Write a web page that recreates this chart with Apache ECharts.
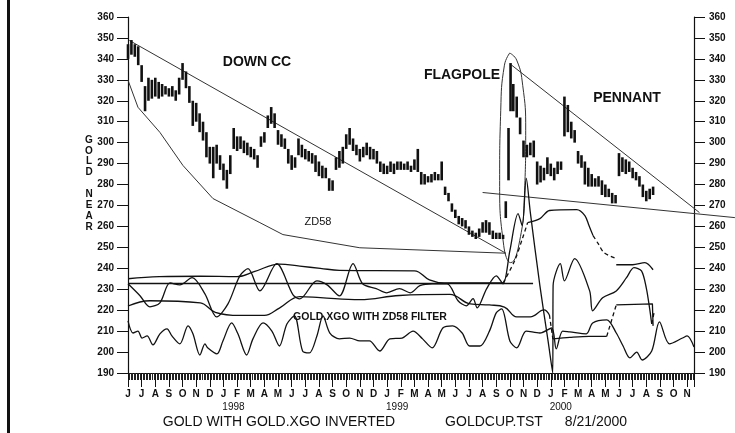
<!DOCTYPE html>
<html>
<head>
<meta charset="utf-8">
<script src="https://cdn.jsdelivr.net/npm/echarts@6/dist/echarts.min.js"></script>
<style>
  html, body { margin: 0; padding: 0; background: #fff; }
  #chart { width: 735px; height: 433px; }
</style>
</head>
<body>
<div id="chart"></div>
<script>
// x values are months counted from the start of June 1997
const monthLabels = ['J','J','A','S','O','N','D','J','F','M','A','M','J','J','A','S','O','N','D',
  'J','F','M','A','M','J','J','A','S','O','N','D','J','F','M','A','M','J','J','A','S','O','N']
const yearLabels = { 7: '1998', 19: '1999', 31: '2000' }

// gold near bars: [month, high, low]
const goldBars = [
  [0,347,340],[0.25,349,342],[0.5,347,341],[0.75,346,337],
  [1.0,337,329],[1.25,327,315],[1.5,331,320],[1.75,330,321],
  [2.0,331,322],[2.25,329,321],[2.5,328,322],[2.75,327,323],
  [3.0,326,322],[3.25,327,322],[3.5,325,320],[3.75,331,323],
  [4.0,338,330],[4.25,334,326],[4.5,327,319],[4.75,320,308],
  [5.0,319,310],[5.25,314,305],[5.5,310,301],[5.75,305,293],
  [6.0,298,290],[6.25,298,283],[6.5,299,290],[6.75,294,287],
  [7.0,290,282],[7.25,287,278],[7.5,294,285],[7.75,307,297],
  [8.0,303,296],[8.25,303,297],[8.5,301,295],[8.75,300,294],
  [9.0,298,293],[9.25,297,292],[9.5,294,288],[9.75,303,298],
  [10.0,305,300],[10.25,313,307],[10.5,317,309],[10.75,314,307],
  [11.0,306,299],[11.25,304,298],[11.5,302,297],[11.75,297,290],
  [12.0,294,287],[12.25,293,288],[12.5,302,294],[12.75,299,293],
  [13.0,297,292],[13.25,296,291],[13.5,295,290],[13.75,294,286],
  [14.0,291,284],[14.25,289,283],[14.5,288,283],[14.75,283,277],
  [15.0,282,277],[15.25,293,287],[15.5,296,288],[15.75,298,290],
  [16.0,304,297],[16.25,307,299],[16.5,302,296],[16.75,299,294],
  [17.0,297,291],[17.25,298,293],[17.5,300,294],[17.75,298,292],
  [18.0,297,292],[18.25,296,290],[18.5,291,286],[18.75,290,285],
  [19.0,289,285],[19.25,291,286],[19.5,290,285],[19.75,291,287],
  [20.0,291,287],[20.25,290,287],[20.5,291,287],[20.75,289,286],
  [21.0,292,287],[21.25,297,286],[21.5,286,280],[21.75,285,280],
  [22.0,284,281],[22.25,285,281],[22.5,286,282],[22.75,285,282],
  [23.0,291,282],[23.25,279,275],[23.5,276,272],[23.75,271,267],
  [24.0,268,264],[24.25,265,261],[24.5,264,260],[24.75,263,259],
  [25.0,260,256],[25.25,258,255],[25.5,257,254],[25.75,259,255],
  [26.0,262,257],[26.25,263,257],[26.5,262,256],[26.75,258,254],
  [27.0,257,254],[27.25,257,254],[27.5,256,254],[27.7,272,264],
  [27.9,307,282],[28.05,338,315],[28.25,328,315],[28.5,322,312],[28.75,312,304],
  [29.0,301,293],[29.25,299,293],[29.5,300,294],[29.75,301,293],
  [30.0,291,280],[30.25,289,281],[30.5,288,282],[30.75,293,285],
  [31.0,290,284],[31.25,288,282],[31.5,291,285],[31.75,291,287],
  [32.0,322,303],[32.25,318,305],[32.5,310,302],[32.75,306,300],
  [33.0,296,290],[33.25,294,288],[33.5,291,280],[33.75,288,279],
  [34.0,285,279],[34.25,283,279],[34.5,284,279],[34.75,282,275],
  [35.0,280,274],[35.25,278,274],[35.5,276,271],[35.75,275,271],
  [36.0,295,284],[36.25,293,286],[36.5,292,285],[36.75,291,286],
  [37.0,288,283],[37.25,286,282],[37.5,284,279],[37.75,280,274],
  [38.0,277,272],[38.25,278,273],[38.5,279,275]
]

// drawn trend lines
const downTrend = [[0.1,348.8],[27.7,247.2]]
const zd58 = [[0,329.8],[0.73,316.9],[2.34,304.9],[4.03,289.1],[6.23,273.3],[9.67,261.8],[11.36,256.1],[17.0,249.8],[27.7,247.2]]
const flagRing = [[27.99,342.8],[28.5,339.4],[28.94,327.4],[29.16,305.9],[29.08,277.1],[28.72,253.2],[28.06,242.7],
  [27.55,250.8],[27.25,281.9],[27.33,315.5],[27.6,337.0],[27.99,342.8]]
// pennant sides: [x1, y1, x2, y2], they run on past the right axis
const pennantSides = [[28.13,337.0,41.9,266.6],[26.0,276.2,44.5,264.2]]
const flatLine = [[0,232.75],[29.7,232.75]]

// gold.xgo / zd58 filter lines
const envelope = [[0,235],[2.3,236],[5.3,236.2],[8.0,236],[9.3,238.5],[11.1,242],[12.6,241],[14.1,240],[15.5,239],
  [21.0,238.8],[22.1,234.5],[23.2,233],[27.5,233]]
const envelopeRise = [[27.5,233],[28.35,243.6],[28.94,254.6],[29.3,261.8]]
const forecast = [[29.3,261.8],[30.2,263.7],[30.9,267.6],[32.9,268],[33.5,265.2],[33.8,260.4],[34.1,255.6]]
const forecastDash = [[34.1,255.6],[34.5,251.5],[34.9,247.5],[35.8,244.6]]
const forecastTail = [[35.8,241.7],[37.0,241.7],[37.9,242.7],[38.5,239.3]]

const oscillator = [[0,232.6],[0.88,226.9],[1.6,221.6],[2.34,223.5],[3.08,233.0],[3.8,232.1],[4.7,235.5],[5.64,227.8],
  [6.5,216.8],[7.33,223.0],[8.2,236.4],[8.8,239.8],[9.67,229.2],[10.9,242.2],[12.1,227.3],[12.6,225.4],[13.85,234.0],
  [14.6,232.1],[15.5,226.8],[16.5,242.2],[17.2,232.6],[18.2,230.3],[18.97,228.3],[19.9,230.3],[20.7,228.3],[21.4,231.7],
  [22.3,232.6],[23.4,232.6],[24.2,224.5],[24.8,222.1],[25.3,225.5],[25.6,221.1],[26.3,230.3],[27.0,236.4],[27.5,232.6],
  [28.0,248.4],[28.6,266.1],[28.9,260.4],[29.2,282.9],[29.5,266.6],[30.2,231.7],[30.8,205.3],[31.14,190],
  [31.17,231.7],[31.7,242.2],[32.0,234.0],[32.75,244.6],[33.85,229.2],[34.07,219.7],[34.8,225.9],[35.8,229.2],
  [36.55,235.5],[37.1,240.3],[37.65,238.8],[38.0,230.7],[38.24,221.1],[38.4,213.4]]
const oscillatorTail = [[38.4,213.4],[38.6,219.7]]

const baseLine = [[0,222],[1.6,224.5],[5.3,223.5],[6.4,219],[8.2,217.5],[10.0,217.5],[11.1,221],[12.6,226.5],[14.1,226],
  [17.0,225],[19.9,227],[23.6,227.5],[25.1,223],[26.5,222.5],[27.6,221.5],[28.5,216.8],[29.5,216.8],[30.5,220.1],[30.9,217.7]]
const baseDrop = [[30.9,217.7],[31.15,206.3]]
const baseFlat = [[31.15,206.3],[32.4,207],[33.8,207.5],[35.1,207.5]]
const baseRise = [[35.1,207.5],[35.8,222.5]]
const baseTop = [[35.8,222.5],[38.45,223],[38.5,212.5]]

const lowOsc = [[0,214.9],[0.37,209.1],[0.73,210.0],[1.03,206.7],[1.4,207.7],[1.83,203.4],[2.34,208.7],[2.86,211.1],
  [3.22,207.7],[3.8,203.9],[4.4,212.5],[4.76,208.7],[5.27,198.6],[5.64,203.9],[5.86,201.9],[6.52,199.1],[6.96,205.3],
  [7.6,213.9],[8.06,208.7],[8.7,198.6],[9.16,206.3],[9.9,213.9],[10.55,210.0],[11.1,202.9],[11.65,213.4],[12.2,217.3],
  [12.8,200.5],[13.3,199.6],[13.85,207.7],[14.3,217.3],[14.8,209.1],[15.5,206.3],[16.26,206.7],[17.0,205.3],[17.7,205.3],
  [18.46,200.5],[19.2,206.3],[20.1,206.7],[20.9,210.0],[21.6,206.3],[22.3,202.0],[23.1,211.6],[23.8,212.5],[24.5,209.1],
  [25.05,202.9],[25.8,202.9],[26.5,210.0],[27.0,218.7],[27.4,220.6],[28.0,205.3],[28.5,202.0],[29.2,210.0],[30.2,209.1],
  [31.06,211.5],[31.4,201.5],[31.87,210.0],[32.4,209.6],[33.6,208.7],[34.07,213.9],[35.1,215.4],[35.8,209.1],[36.3,202.9],
  [36.8,197.2],[37.3,200.0],[37.7,196.2],[38.4,200.5],[38.97,214.4],[39.7,203.9],[40.66,206.7],[41.0,207.7],[41.5,202.4]]

const font = 'Liberation Sans, Arial, Helvetica, sans-serif'
const ink = '#111'

function line(data, opts) {
  opts = opts || {}
  return {
    type: 'line',
    data: data,
    showSymbol: false,
    silent: true,
    smooth: opts.smooth || false,
    lineStyle: { color: opts.color || ink, width: opts.width || 1.3, type: opts.dash ? [4, 3] : 'solid' },
    z: 3
  }
}

const chart = echarts.init(document.getElementById('chart'))

const yAxisBase = {
  type: 'value', min: 190, max: 360, interval: 10,
  axisLine: { show: true, lineStyle: { color: ink, width: 1.2 } },
  axisTick: { show: true, length: 11, lineStyle: { color: ink, width: 1 } },
  splitLine: { show: false },
  axisLabel: { fontFamily: font, fontWeight: 'bold', fontSize: 10, color: ink, margin: 14 }
}

chart.setOption({
  animation: false,
  backgroundColor: '#fff',
  grid: { left: 128, right: 41, top: 17, bottom: 60 },
  xAxis: {
    type: 'value', min: 0, max: 41.5, interval: 1,
    axisLine: { lineStyle: { color: ink, width: 1.2 } },
    axisTick: { length: 14, lineStyle: { color: ink, width: 1 } },
    minorTick: { show: true, splitNumber: 9, length: 7, lineStyle: { color: '#222', width: 1 } },
    splitLine: { show: false },
    axisLabel: {
      margin: 15,
      showMaxLabel: false,
      formatter: function (v) {
        const i = Math.round(v)
        if (Math.abs(v - i) > 1e-6 || !monthLabels[i]) return ''
        return yearLabels[i] ? '{m|' + monthLabels[i] + '}\n{y|' + yearLabels[i] + '}' : '{m|' + monthLabels[i] + '}'
      },
      rich: {
        m: { fontFamily: font, fontWeight: 'bold', fontSize: 10, color: ink, lineHeight: 13 },
        y: { fontFamily: font, fontSize: 10, color: ink, lineHeight: 13, padding: [0, 0, 0, 20] }
      }
    }
  },
  yAxis: [
    Object.assign({}, yAxisBase, { position: 'left' }),
    Object.assign({}, yAxisBase, { position: 'right', axisLabel: Object.assign({}, yAxisBase.axisLabel, { margin: 15 }) })
  ],
  series: [
    {
      type: 'custom',
      silent: true,
      data: goldBars,
      encode: { x: 0, y: [1, 2] },
      z: 4,
      renderItem: function (params, api) {
        const top = api.coord([api.value(0), api.value(1)])
        const bot = api.coord([api.value(0), api.value(2)])
        return {
          type: 'line',
          shape: { x1: top[0], y1: top[1], x2: bot[0], y2: bot[1] },
          style: { stroke: ink, lineWidth: 2.6 }
        }
      }
    },
    {
      type: 'custom',
      silent: true,
      clip: false,
      data: pennantSides,
      encode: { x: [0, 2], y: [1, 3] },
      z: 3,
      renderItem: function (params, api) {
        const a = api.coord([api.value(0), api.value(1)])
        const b = api.coord([api.value(2), api.value(3)])
        return {
          type: 'line',
          shape: { x1: a[0], y1: a[1], x2: b[0], y2: b[1] },
          style: { stroke: '#333', lineWidth: 1 }
        }
      }
    },
    line(downTrend, { width: 1, color: '#333' }),
    line(zd58, { width: 1, color: '#333' }),
    line(flagRing, { width: 1, color: '#333', smooth: 0.5 }),
    line(flatLine, { width: 1.4 }),
    line(envelope, { smooth: 0.4 }),
    line(envelopeRise, { smooth: 0.3, dash: true }),
    line(forecast, { smooth: 0.3 }),
    line(forecastDash, { smooth: 0.3, dash: true }),
    line(forecastTail, { smooth: 0.3 }),
    line(oscillator, { smooth: 0.3 }),
    line(oscillatorTail, { dash: true }),
    line(baseLine, { smooth: 0.4 }),
    line(baseDrop, { dash: true }),
    line(baseFlat, { smooth: 0.3 }),
    line(baseRise, { dash: true }),
    line(baseTop, {}),
    line(lowOsc, { smooth: 0.3 })
  ],
  graphic: [
    { type: 'rect', left: 7, top: 0, shape: { width: 3, height: 433 }, style: { fill: ink } },
    { type: 'text', x: 89, y: 135, style: { text: 'G\nO\nL\nD', font: 'bold 10px ' + font, fill: ink, align: 'center', lineHeight: 10.5 } },
    { type: 'text', x: 89, y: 189, style: { text: 'N\nE\nA\nR', font: 'bold 10px ' + font, fill: ink, align: 'center', lineHeight: 11 } },
    { type: 'text', x: 257, y: 62, style: { text: 'DOWN CC', font: 'bold 14px ' + font, fill: ink, align: 'center', verticalAlign: 'middle' } },
    { type: 'text', x: 462, y: 75, style: { text: 'FLAGPOLE', font: 'bold 14px ' + font, fill: ink, align: 'center', verticalAlign: 'middle' } },
    { type: 'text', x: 627, y: 98, style: { text: 'PENNANT', font: 'bold 14px ' + font, fill: ink, align: 'center', verticalAlign: 'middle' } },
    { type: 'text', x: 318, y: 222, style: { text: 'ZD58', font: '11px ' + font, fill: ink, align: 'center', verticalAlign: 'middle' } },
    { type: 'text', x: 370, y: 317, style: { text: 'GOLD.XGO WITH ZD58 FILTER', font: 'bold 10.5px ' + font, fill: ink, align: 'center', verticalAlign: 'middle' } },
    { type: 'text', x: 279, y: 422, style: { text: 'GOLD WITH GOLD.XGO INVERTED', font: '14px ' + font, fill: ink, align: 'center', verticalAlign: 'middle' } },
    { type: 'text', x: 494, y: 422, style: { text: 'GOLDCUP.TST', font: '14px ' + font, fill: ink, align: 'center', verticalAlign: 'middle' } },
    { type: 'text', x: 596, y: 422, style: { text: '8/21/2000', font: '14px ' + font, fill: ink, align: 'center', verticalAlign: 'middle' } }
  ]
})
</script>
</body>
</html>
